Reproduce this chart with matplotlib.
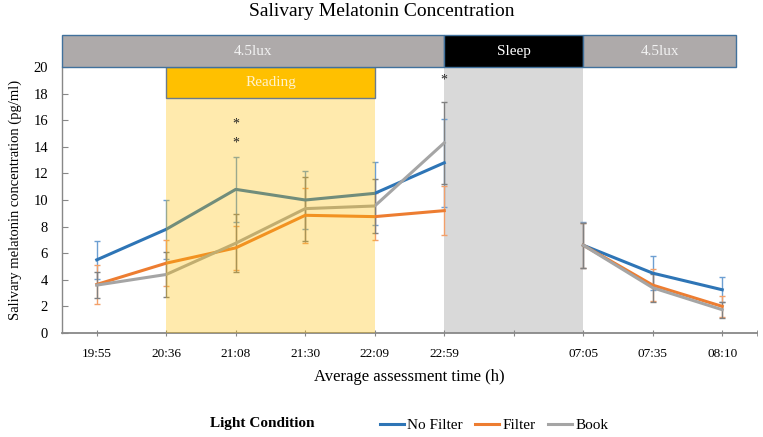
import numpy as np
import matplotlib.pyplot as plt
from matplotlib.patches import Rectangle
from matplotlib.lines import Line2D

plt.rcParams['font.family'] = ['Liberation Serif', 'DejaVu Serif']

# values (pg/ml), index 6 is the empty overnight slot
times = ['19:55', '20:36', '21:08', '21:30', '22:09', '22:59', '', '07:05', '07:35', '08:10']
no_filter = [5.5, 7.8, 10.8, 10.0, 10.5, 12.8, np.nan, 6.6, 4.5, 3.25]
no_filter_err = [1.45, 2.2, 2.45, 2.15, 2.35, 3.3, np.nan, 1.75, 1.3, 0.95]
filt = [3.65, 5.25, 6.4, 8.85, 8.75, 9.2, np.nan, 6.6, 3.6, 2.0]
filt_err = [1.47, 1.75, 1.65, 2.05, 1.75, 1.85, np.nan, 1.7, 1.2, 0.8]
book = [3.6, 4.4, 6.75, 9.35, 9.55, 14.3, np.nan, 6.6, 3.4, 1.75]
book_err = [1.0, 1.7, 2.2, 2.4, 2.0, 3.1, np.nan, 1.7, 1.05, 0.6]

# significance marks: (slot, height)
stars = [(2, 15.7), (2, 14.3), (5, 19.0)]

blue = '#2e75b6'
orange = '#ed7d31'
grey = '#a5a5a5'

fig = plt.figure(figsize=(7.63, 4.37), dpi=100)
ax = fig.add_axes([62/763, 1-333/437, (757-62)/763, (333-67)/437])

x = np.arange(len(times))

# sleep period background
ax.add_patch(Rectangle((5, 0), 2, 20, facecolor='#d9d9d9', edgecolor='none', zorder=0))

series = [(no_filter, no_filter_err, blue, '#6d9fd2', 'No Filter'),
          (filt, filt_err, orange, '#f3a06a', 'Filter'),
          (book, book_err, grey, '#808080', 'Book')]
for vals, err, col, ecol, lab in series:
    ax.errorbar(x, vals, yerr=err, color=col, lw=2.2, ecolor=ecol, elinewidth=1,
                capsize=2.5, capthick=1, zorder=2, label=lab)

# reading period overlay
ax.add_patch(Rectangle((1, 0), 3, 20, facecolor='#ffc000', alpha=0.32, edgecolor='none', zorder=3))
ax.add_patch(Rectangle((1, 17.7), 3, 2.3, facecolor='#ffc000', edgecolor='#6b7b8c', lw=1, zorder=4))
ax.text(2.5, 18.85, 'Reading', color='#fff2cc', fontsize=11, ha='center', va='center', zorder=5)

# light condition band above the plot
band = [(-0.5, 5.5, '#aeaaaa', '4.5lux', '#f2f2f2'),
        (5, 2, '#000000', 'Sleep', 'white'),
        (7, 2.2, '#aeaaaa', '4.5lux', '#f2f2f2')]
for x0, w, fc, txt, tc in band:
    ax.add_patch(Rectangle((x0, 20), w, 2.4, facecolor=fc, edgecolor='#41719c', lw=1,
                           clip_on=False, zorder=4))
    ax.text(x0 + w/2, 21.2, txt, color=tc, fontsize=11, ha='center', va='center', zorder=5)

for sx, sy in stars:
    ax.text(sx, sy, '*', fontsize=10, ha='center', va='center', color='#222222', zorder=6)

ax.set_xlim(-0.5, 9.5)
ax.set_ylim(0, 20)
ax.set_xticks(x)
ax.set_xticklabels(times)
ax.set_xticks([9.5], minor=True)
ax.set_yticks(np.arange(0, 21, 2))
ax.tick_params(axis='x', direction='inout', length=5, color='#888888', labelsize=9.5, pad=8)
ax.tick_params(axis='x', which='minor', direction='inout', length=5, color='#888888')
ax.tick_params(axis='y', direction='in', length=4, color='#888888', labelsize=10.5, pad=10)
for s in ['top', 'right']:
    ax.spines[s].set_visible(False)
ax.spines['bottom'].set_color('#888888')
ax.spines['bottom'].set_linewidth(1.3)
ax.spines['left'].set_color('#888888')
ax.spines['left'].set_linewidth(1.0)

ax.set_xlabel('Average assessment time (h)', fontsize=12, labelpad=7)
ax.set_ylabel('Salivary melatonin concentration (pg/ml)', fontsize=10.5, labelpad=8)
fig.text(0.5, 1-12/437, 'Salivary Melatonin Concentration', fontsize=14, ha='center', va='center')

handles = [Line2D([], [], color=c, lw=2.2) for c in [blue, orange, grey]]
fig.legend(handles, ['No Filter', 'Filter', 'Book'], loc='center', bbox_to_anchor=(494/763, 1-425/437),
           ncol=3, frameon=False, fontsize=11, handlelength=1.6, handletextpad=0.2, columnspacing=0.8)
fig.text(262/763, 1-423/437, 'Light Condition', fontsize=11, fontweight='bold', ha='center', va='center')

fig.savefig('out.png', dpi=100)
